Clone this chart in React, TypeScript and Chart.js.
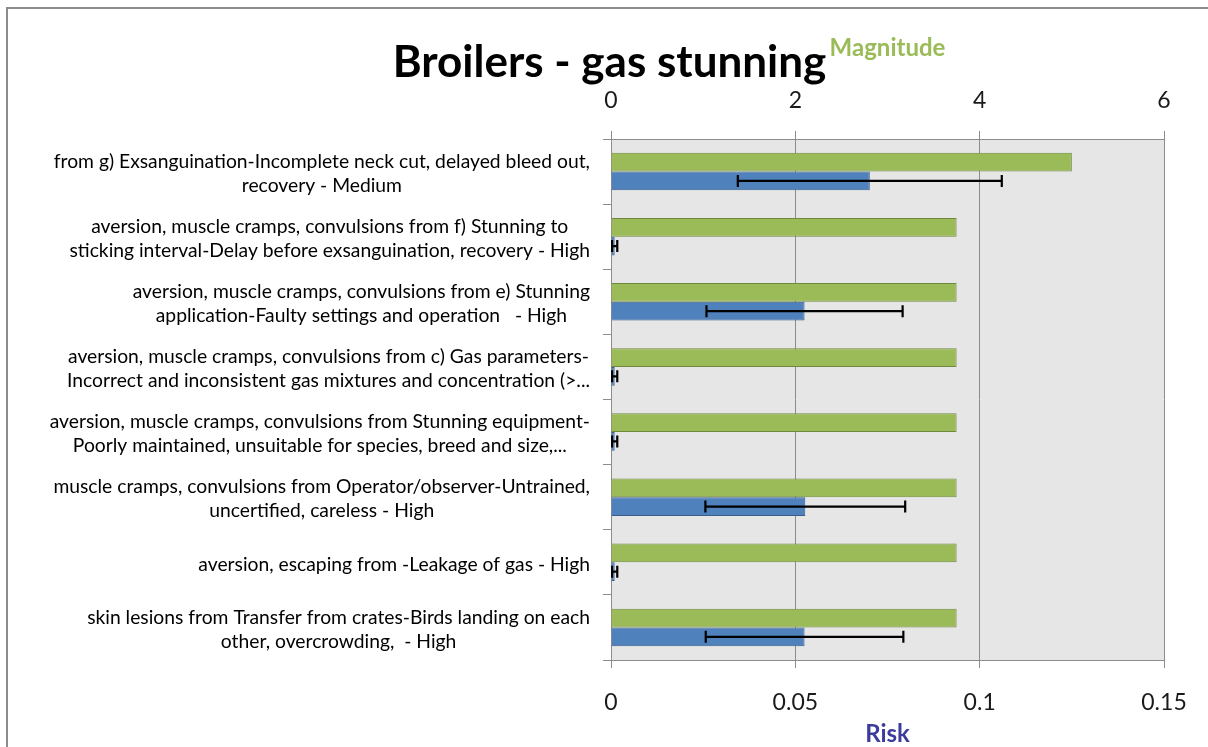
import React, { useEffect, useRef } from "react";
import { Chart, registerables } from "chart.js";

Chart.register(...registerables);

const CATEGORIES: string[][] = [
  ["from g) Exsanguination-Incomplete neck cut, delayed bleed out,", "recovery - Medium"],
  ["aversion, muscle cramps, convulsions from f) Stunning to", "sticking interval-Delay before exsanguination, recovery - High"],
  ["aversion, muscle cramps, convulsions from e) Stunning", "application-Faulty settings and operation   - High"],
  ["aversion, muscle cramps, convulsions from c) Gas parameters-", "Incorrect and inconsistent gas mixtures and concentration (>..."],
  ["aversion, muscle cramps, convulsions from Stunning equipment-", "Poorly maintained, unsuitable for species, breed and size,..."],
  ["muscle cramps, convulsions from Operator/observer-Untrained,", "uncertified, careless - High"],
  ["aversion, escaping from -Leakage of gas - High"],
  ["skin lesions from Transfer from crates-Birds landing on each", "other, overcrowding,  - High"],
];

const MAGNITUDE = [5, 3.75, 3.75, 3.75, 3.75, 3.75, 3.75, 3.75];
const RISK = [0.0702, 0.001, 0.0525, 0.001, 0.001, 0.0527, 0.001, 0.0525];
const RISK_ERROR = [0.0358, 0.0007, 0.0266, 0.0007, 0.0007, 0.0271, 0.0007, 0.0268];

const RISK_TICKS = [0, 0.05, 0.1, 0.15];
const MAGNITUDE_TICKS = [0, 2, 4, 6];

const TITLE = "Broilers - gas stunning";
const FONT = "Lato, 'Open Sans', sans-serif";
const GRID = "#8C8C8C";

const plotBackground = {
  id: "plotBackground",
  beforeDraw(chart: any) {
    const { ctx, chartArea } = chart;
    ctx.save();
    ctx.fillStyle = "#E6E6E6";
    ctx.fillRect(chartArea.left, chartArea.top, chartArea.right - chartArea.left, chartArea.bottom - chartArea.top);
    ctx.restore();
  },
};

const frame = {
  id: "frame",
  afterDraw(chart: any) {
    const { ctx } = chart;
    ctx.save();
    ctx.strokeStyle = "#8C8C8C";
    ctx.lineWidth = 2;
    ctx.strokeRect(7, 8, chart.width + 20, chart.height + 20);
    ctx.restore();
  },
};

const errorBars = {
  id: "errorBars",
  afterDatasetsDraw(chart: any) {
    const { ctx } = chart;
    const xs = chart.scales.x;
    const meta = chart.getDatasetMeta(1);
    ctx.save();
    ctx.strokeStyle = "#000000";
    ctx.lineWidth = 2.2;
    meta.data.forEach((bar: any, i: number) => {
      const x1 = xs.getPixelForValue(RISK[i] - RISK_ERROR[i]);
      const x2 = xs.getPixelForValue(RISK[i] + RISK_ERROR[i]);
      const y = bar.y;
      const h = 6;
      ctx.beginPath();
      ctx.moveTo(x1, y);
      ctx.lineTo(x2, y);
      ctx.moveTo(x1, y - h);
      ctx.lineTo(x1, y + h);
      ctx.moveTo(x2, y - h);
      ctx.lineTo(x2, y + h);
      ctx.stroke();
    });
    ctx.restore();
  },
};

const categoryLabels = {
  id: "categoryLabels",
  afterDraw(chart: any) {
    const { ctx } = chart;
    const ys = chart.scales.y;
    ctx.save();
    ctx.font = `19.3px ${FONT}`;
    ctx.fillStyle = "#000000";
    ctx.textAlign = "center";
    ctx.textBaseline = "middle";
    const lineHeight = 24;
    const rightEdge = ys.right - 21;
    CATEGORIES.forEach((lines, i) => {
      const cy = ys.getPixelForValue(i) + 2;
      const maxW = Math.max(...lines.map((l) => ctx.measureText(l).width));
      const cx = rightEdge - maxW / 2;
      lines.forEach((line, j) => {
        ctx.fillText(line, cx, cy + (j - (lines.length - 1) / 2) * lineHeight);
      });
    });
    ctx.restore();
  },
};

export default function App() {
  const ref = useRef<HTMLCanvasElement | null>(null);

  useEffect(() => {
    if (!ref.current) return;
    const chart = new Chart(ref.current, {
      type: "bar",
      data: {
        labels: CATEGORIES,
        datasets: [
          {
            label: "Magnitude",
            data: MAGNITUDE,
            xAxisID: "x2",
            backgroundColor: "#9BBB59",
            borderColor: "#71893F",
            borderWidth: 1,
            categoryPercentage: 0.574,
            barPercentage: 1,
          },
          {
            label: "Risk",
            data: RISK,
            xAxisID: "x",
            backgroundColor: "#4F81BD",
            borderColor: "#385D8A",
            borderWidth: 1,
            categoryPercentage: 0.574,
            barPercentage: 1,
          },
        ],
      },
      options: {
        indexAxis: "y",
        animation: false,
        responsive: true,
        maintainAspectRatio: false,
        layout: { padding: { left: 55, right: 44, top: 0, bottom: 0 } },
        plugins: {
          legend: { display: false },
          tooltip: { enabled: false },
          title: {
            display: true,
            text: TITLE,
            color: "#000000",
            font: { family: FONT, size: 44, weight: "bold", lineHeight: 1.2 },
            padding: { top: 36, bottom: -88.8 },
          },
        },
        scales: {
          x: {
            type: "linear",
            position: "bottom",
            min: 0,
            max: 0.15,
            afterBuildTicks: (s: any) => {
              s.ticks = RISK_TICKS.map((v) => ({ value: v }));
            },
            afterFit: (s: any) => {
              s.height = 87;
            },
            grid: { color: GRID, tickLength: 8, drawOnChartArea: true },
            border: { color: GRID },
            ticks: {
              font: { family: FONT, size: 23 },
              color: "#1A1A1A",
              padding: 21,
              callback: (v: any) => String(v),
            },
            title: {
              display: true,
              text: "Risk",
              color: "#3C3C9C",
              font: { family: FONT, size: 24, weight: "bold" },
              padding: { top: 0, bottom: -2 },
            },
          },
          x2: {
            type: "linear",
            position: "top",
            min: 0,
            max: 6,
            afterBuildTicks: (s: any) => {
              s.ticks = MAGNITUDE_TICKS.map((v) => ({ value: v }));
            },
            afterFit: (s: any) => {
              s.height = 139;
            },
            grid: { color: GRID, tickLength: 8, drawOnChartArea: false },
            border: { color: GRID },
            ticks: {
              font: { family: FONT, size: 23 },
              color: "#1A1A1A",
              padding: 17,
              callback: (v: any) => String(v),
            },
            title: {
              display: true,
              text: "Magnitude",
              color: "#9BBB59",
              font: { family: FONT, size: 24, weight: "bold" },
              padding: { top: 34, bottom: 0 },
            },
          },
          y: {
            type: "category",
            afterFit: (s: any) => {
              s.width = 556;
            },
            grid: { color: GRID, tickLength: 8, drawOnChartArea: false, offset: true },
            border: { color: GRID },
            ticks: { display: false },
          },
        },
      },
      plugins: [plotBackground, errorBars, categoryLabels, frame],
    } as any);
    return () => chart.destroy();
  }, []);

  return (
    <div style={{ position: "absolute", left: 0, top: 0, width: 1208, height: 747 }}>
      <canvas ref={ref} />
    </div>
  );
}
